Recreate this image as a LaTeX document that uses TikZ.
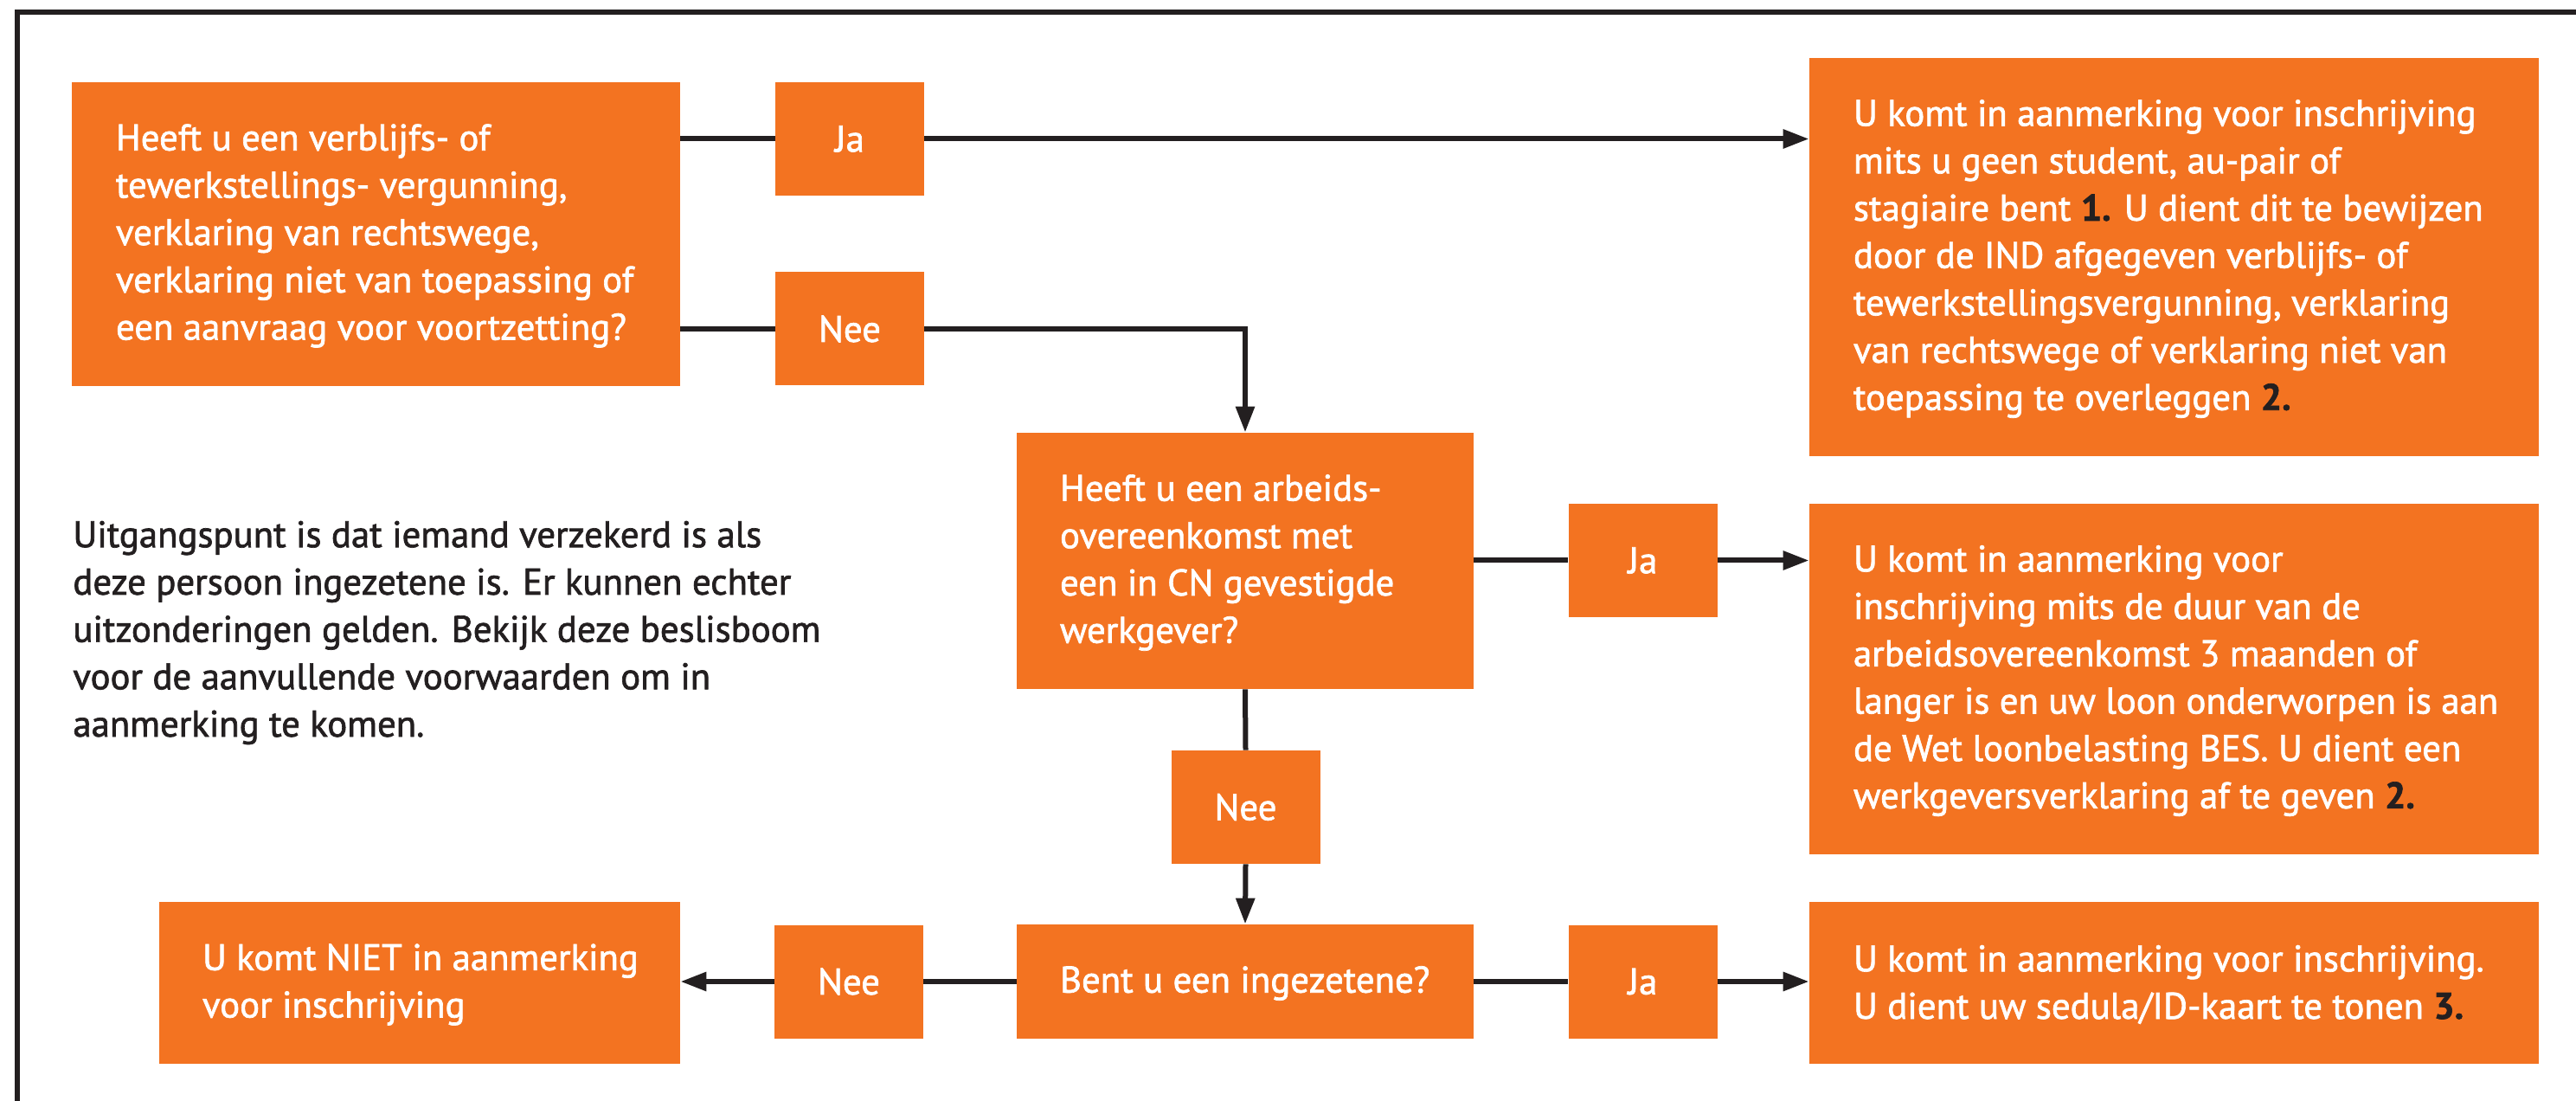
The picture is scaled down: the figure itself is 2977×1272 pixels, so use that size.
\documentclass[tikz,border=0pt]{standalone}
\usepackage{fontspec}
\setmainfont{PT Sans}[FakeBold=1.6]
\usetikzlibrary{arrows.meta,calc}
\definecolor{rvoorange}{HTML}{F37321}
\definecolor{inkdark}{HTML}{231F20}
\newcommand{\fnref}[1]{{\color{inkdark}\bfseries #1}}
\begin{document}
\begin{tikzpicture}[x=0.5pt,y=-0.5pt,
  boxshape/.style={fill=rvoorange, draw=none, inner sep=0pt, anchor=center},
  boxtext/.style={text=white, inner sep=0pt, align=left, anchor=west,
    font=\fontsize{21.4pt}{27.35pt}\selectfont},
  lblbox/.style={boxshape, minimum width=86pt, minimum height=65.5pt, text=white,
    font=\fontsize{21.4pt}{27.35pt}\selectfont},
  conn/.style={draw=inkdark, line width=3pt, line join=miter},
  arr/.style={conn, -{Triangle[length=15pt,width=10.5pt]}}]
\useasboundingbox (0,0) rectangle (2977,1272);
% frame
\draw[conn] (20,1272) -- (20,14.5) -- (2977,14.5);

% boxes
\node[boxshape, minimum width=351.5pt, minimum height=175.5pt] (q1) at (434.5,270.5) {};
\node[boxtext] (q1t) at ($(q1.west)+(51,2)$) {Heeft u een verblijfs- of\\tewerkstellings- vergunning,\\verklaring van rechtswege,\\verklaring niet van toepassing of\\een aanvraag voor voortzetting?};

\node[boxshape, minimum width=421.5pt, minimum height=230pt] (r1) at (2512.5,297) {};
\node[boxtext] (r1t) at ($(r1.west)+(51,2)$) {U komt in aanmerking voor inschrijving\\mits u geen student, au-pair of\\stagiaire bent \fnref{1.} U dient dit te bewijzen\\door de IND afgegeven verblijfs- of\\tewerkstellingsvergunning, verklaring\\van rechtswege of verklaring niet van\\toepassing te overleggen \fnref{2.}};

\node[boxshape, minimum width=264pt, minimum height=148pt] (q2) at (1439,648) {};
\node[boxtext] (q2t) at ($(q2.west)+(50,2)$) {Heeft u een arbeids-\\overeenkomst met\\een in CN gevestigde\\werkgever?};

\node[boxshape, minimum width=421.5pt, minimum height=202.5pt] (r2) at (2512.5,784.5) {};
\node[boxtext] (r2t) at ($(r2.west)+(51,2)$) {U komt in aanmerking voor\\inschrijving mits de duur van de\\arbeidsovereenkomst 3 maanden of\\langer is en uw loon onderworpen is aan\\de Wet loonbelasting BES. U dient een\\werkgeversverklaring af te geven \fnref{2.}};

\node[boxshape, minimum width=264pt, minimum height=66pt] (q3) at (1439,1134) {};
\node[boxtext] (q3t) at ($(q3.west)+(50,2)$) {Bent u een ingezetene?};

\node[boxshape, minimum width=421.5pt, minimum height=93.5pt] (r3) at (2512.5,1135.5) {};
\node[boxtext] (r3t) at ($(r3.west)+(51,2)$) {U komt in aanmerking voor inschrijving.\\U dient uw sedula/ID-kaart te tonen \fnref{3.}};

\node[boxshape, minimum width=301pt, minimum height=93.5pt] (niet) at (485,1135.5) {};
\node[boxtext] (niett) at ($(niet.west)+(50,2)$) {U komt NIET in aanmerking\\voor inschrijving};

% label boxes
\node[lblbox] (ja1) at (982,160.5) {Ja};
\node[lblbox] (nee1) at (982,380) {Nee};
\node[lblbox] (ja2) at (1898.5,647.5) {Ja};
\node[lblbox] (nee2) at (1439.5,932.5) {Nee};
\node[lblbox] (ja3) at (1898.5,1134) {Ja};
\node[lblbox] (nee3) at (981,1134) {Nee};

% intro text
\node[boxtext, text=inkdark] (intro) at (84,731) {Uitgangspunt is dat iemand verzekerd is als\\deze persoon ingezetene is. Er kunnen echter\\uitzonderingen gelden. Bekijk deze beslisboom\\voor de aanvullende voorwaarden om in\\aanmerking te komen.};

% connectors
\draw[conn] (q1.east |- ja1.west) -- (ja1.west);
\draw[arr] (ja1.east) -- (ja1.east -| r1.west);
\draw[conn] (q1.east |- nee1.west) -- (nee1.west);
\draw[arr] (nee1.east) -| (q2.north);
\draw[conn] (q2.east |- ja2.west) -- (ja2.west);
\draw[arr] (ja2.east) -- (ja2.east -| r2.west);
\draw[conn] (q2.south) -- (nee2.north);
\draw[arr] (nee2.south) -- (q3.north);
\draw[conn] (q3.east) -- (ja3.west);
\draw[arr] (ja3.east) -- (ja3.east -| r3.west);
\draw[conn] (q3.west) -- (nee3.east);
\draw[arr] (nee3.west) -- (nee3.west -| niet.east);
\end{tikzpicture}
\end{document}
